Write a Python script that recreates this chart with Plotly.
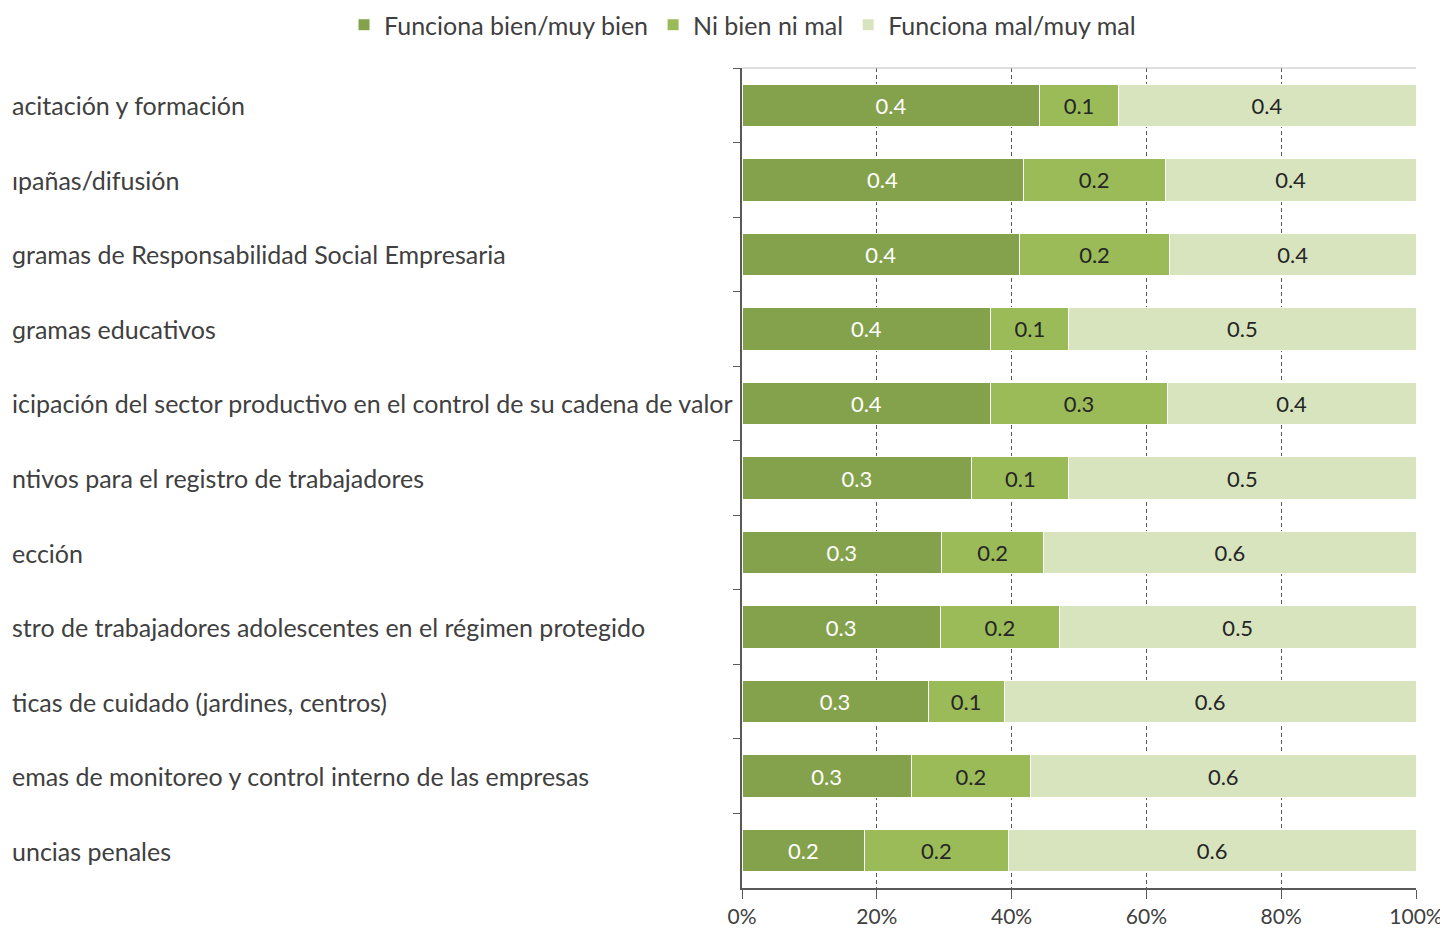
import plotly.graph_objects as go

# categories top to bottom (labels are clipped at the left in the source image)
categories = [
    "acitación y formación",
    "ıpañas/difusión",
    "ɡramas de Responsabilidad Social Empresaria",
    "ɡramas educativos",
    "icipación del sector productivo en el control de su cadena de valor",
    "ntivos para el registro de trabajadores",
    "ección",
    "stro de trabajadores adolescentes en el régimen protegido",
    "ticas de cuidado (jardines, centros)",
    "emas de monitoreo y control interno de las empresas",
    "uncias penales",
]
bien = [0.442, 0.417, 0.412, 0.369, 0.369, 0.341, 0.296, 0.294, 0.276, 0.251, 0.182]
ni = [0.116, 0.211, 0.222, 0.116, 0.262, 0.144, 0.152, 0.177, 0.113, 0.177, 0.213]
mal = [0.442, 0.372, 0.366, 0.515, 0.369, 0.515, 0.552, 0.529, 0.611, 0.572, 0.605]
series_names = ["Funciona bien/muy bien", "Ni bien ni mal", "Funciona mal/muy mal"]
x_ticks = [0, 0.2, 0.4, 0.6, 0.8, 1.0]

colors = ["#84a24c", "#9bbb59", "#d7e4bd"]
text_colors = ["white", "#262626", "#262626"]
FONT = "Lato, 'Open Sans', sans-serif"

# page body adds an 8px offset, so the figure is 8px smaller than the window
W, H = 1440, 920
L, R, T, B = 734, 32, 60, 40
PW = W - L - R
PH = H - T - B

fig = go.Figure()
for name, vals, c, tc in zip(series_names, [bien, ni, mal], colors, text_colors):
    fig.add_trace(go.Bar(
        y=categories, x=vals, name=name, orientation='h',
        marker=dict(color=c, line=dict(color='white', width=1)),
        texttemplate='%{x:.1f}', textposition='inside', insidetextanchor='middle',
        textfont=dict(color=tc, size=22, family=FONT),
        width=0.57,
    ))

# left-aligned category labels
for cat in categories:
    fig.add_annotation(x=(2 - L) / PW, xref='paper', y=cat, yref='y', text=cat,
                       showarrow=False, xanchor='left',
                       font=dict(size=25, color='#404040', family=FONT))

# top border
fig.add_shape(type='line', xref='paper', yref='paper', x0=0, x1=1, y0=1, y1=1,
              line=dict(color='#bfbfbf', width=1))

fig.update_layout(
    barmode='stack',
    width=W, height=H,
    margin=dict(l=L, r=R, t=T, b=B, autoexpand=False),
    paper_bgcolor='white', plot_bgcolor='white',
    font=dict(family=FONT, color='#404040', size=20),
    legend=dict(orientation='h', x=(336 - L) / PW, xanchor='left',
                y=1 + (T - 17) / PH, yanchor='middle',
                font=dict(size=25, color='#404040'), traceorder='normal',
                itemwidth=30),
    showlegend=True,
)
fig.update_xaxes(range=[0, 1], tickvals=x_ticks, tickformat='.0%',
                 showgrid=True, gridcolor='#595959', griddash='4px,3px', gridwidth=1,
                 showline=True, linecolor='#595959', linewidth=2,
                 ticks='outside', ticklen=9, tickcolor='#595959',
                 tickfont=dict(size=21, color='#404040'), zeroline=False)
fig.update_yaxes(autorange='reversed', showticklabels=False,
                 showline=True, linecolor='#595959', linewidth=2,
                 ticks='outside', ticklen=7, tickcolor='#595959',
                 tickson='boundaries', showgrid=False)

fig.write_html("out.html")
